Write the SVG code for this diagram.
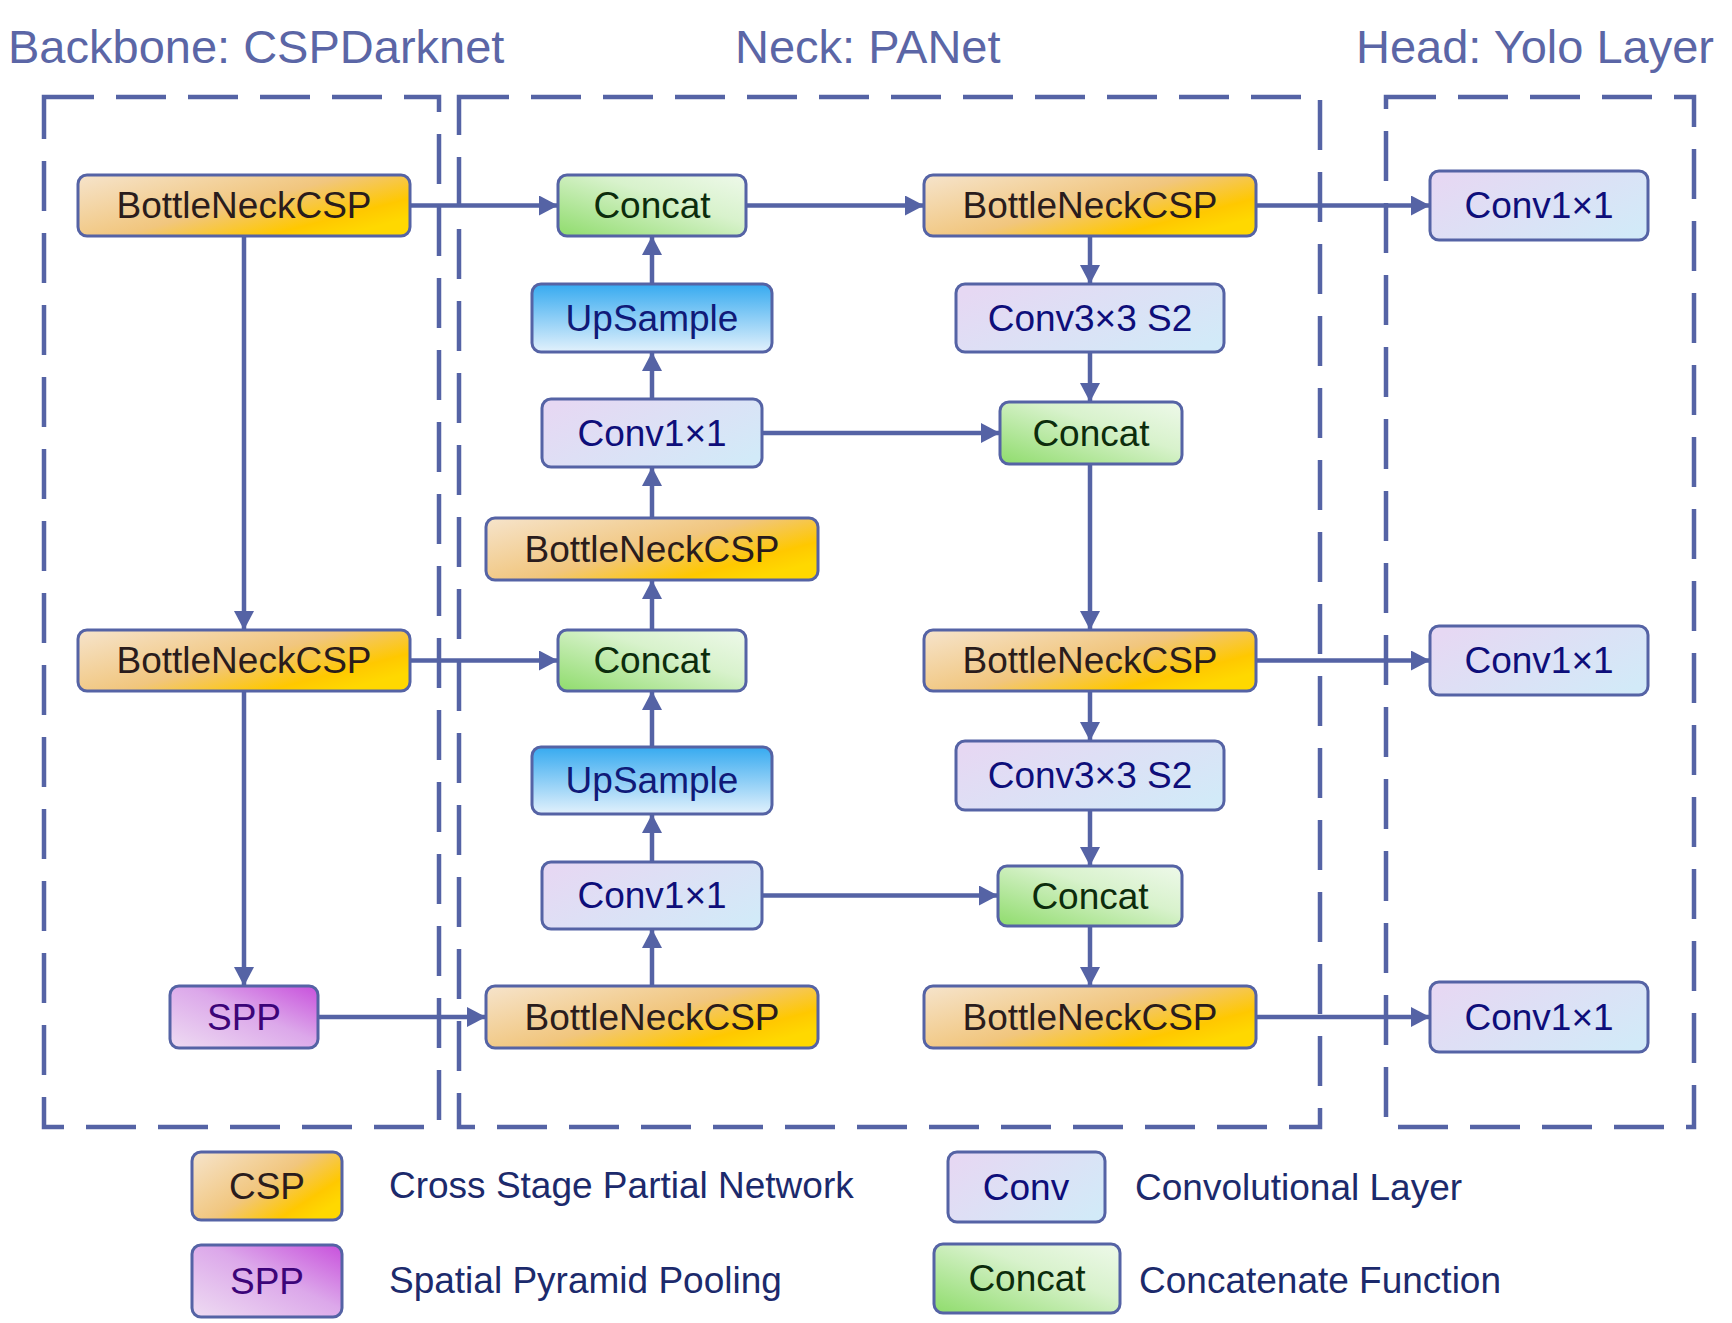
<svg xmlns="http://www.w3.org/2000/svg" width="1732" height="1323" viewBox="0 0 1732 1323">
<defs>
<linearGradient id="gCsp" x1="0" y1="0" x2="1" y2="0.7">
<stop offset="0" stop-color="#f6e4cc"/><stop offset="0.55" stop-color="#f1c67e"/><stop offset="0.85" stop-color="#ffc800"/><stop offset="1" stop-color="#ffd800"/>
</linearGradient>
<linearGradient id="gConv" x1="0" y1="0.2" x2="1" y2="0.8">
<stop offset="0" stop-color="#e6d8f3"/><stop offset="1" stop-color="#d2eaf8"/>
</linearGradient>
<linearGradient id="gConcat" x1="0" y1="1" x2="1" y2="0">
<stop offset="0" stop-color="#8fdc6c"/><stop offset="0.6" stop-color="#d8f2cc"/><stop offset="1" stop-color="#eef9ea"/>
</linearGradient>
<linearGradient id="gUp" x1="0" y1="0" x2="0" y2="1">
<stop offset="0" stop-color="#36aaf0"/><stop offset="1" stop-color="#e2f1fc"/>
</linearGradient>
<linearGradient id="gSpp" x1="0" y1="1" x2="1" y2="0">
<stop offset="0" stop-color="#eedcf2"/><stop offset="0.55" stop-color="#dca8ea"/><stop offset="1" stop-color="#c850dc"/>
</linearGradient>
<marker id="ah" markerUnits="userSpaceOnUse" markerWidth="22" markerHeight="22" refX="19" refY="10" orient="auto">
<path d="M0,0 L19,10 L0,20 z" fill="#5563a5"/>
</marker>
<style>
.box{stroke:#5563a5;stroke-width:3}
.t{font-family:"Liberation Sans",Arial,sans-serif;font-size:37px;text-anchor:middle}
.title{font-family:"Liberation Sans",Arial,sans-serif;font-size:47px;fill:#5b66a6}
.leg{font-family:"Liberation Sans",Arial,sans-serif;font-size:37px;fill:#1c2a6c}
.dash{fill:none;stroke:#5563a5;stroke-width:4.5;stroke-dasharray:50 22}
.csp{fill:url(#gCsp)} .conv{fill:url(#gConv)} .concat{fill:url(#gConcat)} .up{fill:url(#gUp)} .spp{fill:url(#gSpp)}
.tc{fill:#2a1c1c} .tv{fill:#0e0e7a} .tg{fill:#0c2c0c} .tu{fill:#101a78} .ts{fill:#3c0478}
.c{fill:none;stroke:#5563a5;stroke-width:4.5;marker-end:url(#ah)}
</style>
</defs>
<rect width="1732" height="1323" fill="#ffffff"/>
<g id="titles">
<text class="title" x="8" y="63">Backbone: CSPDarknet</text>
<text class="title" x="735" y="63">Neck: PANet</text>
<text class="title" x="1356" y="63">Head: Yolo Layer</text>
</g>
<g id="regions">
<path class="dash" d="M44,97 H439 V1127 H44 Z"/>
<path class="dash" d="M459,97 H1320 V1127 H459 Z"/>
<path class="dash" d="M1386,97 H1694 V1127 H1386 Z"/>
</g>
<g id="connectors">
<line class="c" x1="410" y1="205.5" x2="558" y2="205.5"/>
<line class="c" x1="746" y1="205.5" x2="924" y2="205.5"/>
<line class="c" x1="1256" y1="205.5" x2="1430" y2="205.5"/>
<line class="c" x1="244" y1="236" x2="244" y2="630"/>
<line class="c" x1="410" y1="660.5" x2="558" y2="660.5"/>
<line class="c" x1="244" y1="691" x2="244" y2="986"/>
<line class="c" x1="318" y1="1017" x2="486" y2="1017"/>
<line class="c" x1="652" y1="986" x2="652" y2="929"/>
<line class="c" x1="652" y1="862" x2="652" y2="814"/>
<line class="c" x1="652" y1="747" x2="652" y2="691"/>
<line class="c" x1="652" y1="630" x2="652" y2="580"/>
<line class="c" x1="652" y1="518" x2="652" y2="467"/>
<line class="c" x1="652" y1="399" x2="652" y2="352"/>
<line class="c" x1="652" y1="284" x2="652" y2="236"/>
<line class="c" x1="762" y1="433" x2="1000" y2="433"/>
<line class="c" x1="762" y1="895.5" x2="998" y2="895.5"/>
<line class="c" x1="1090" y1="236" x2="1090" y2="284"/>
<line class="c" x1="1090" y1="352" x2="1090" y2="402"/>
<line class="c" x1="1090" y1="464" x2="1090" y2="630"/>
<line class="c" x1="1256" y1="660.5" x2="1430" y2="660.5"/>
<line class="c" x1="1090" y1="691" x2="1090" y2="741"/>
<line class="c" x1="1090" y1="810" x2="1090" y2="866"/>
<line class="c" x1="1090" y1="926" x2="1090" y2="986"/>
<line class="c" x1="1256" y1="1017" x2="1430" y2="1017"/>
</g>
<g id="bb_csp1"><rect class="box csp" x="78" y="175" width="332" height="61" rx="9"/><text class="t tc" x="244" y="218">BottleNeckCSP</text></g>
<g id="bb_csp2"><rect class="box csp" x="78" y="630" width="332" height="61" rx="9"/><text class="t tc" x="244" y="673">BottleNeckCSP</text></g>
<g id="bb_spp"><rect class="box spp" x="170" y="986" width="148" height="62" rx="9"/><text class="t ts" x="244" y="1030">SPP</text></g>
<g id="n_concat1"><rect class="box concat" x="558" y="175" width="188" height="61" rx="9"/><text class="t tg" x="652" y="218">Concat</text></g>
<g id="n_up1"><rect class="box up" x="532" y="284" width="240" height="68" rx="9"/><text class="t tu" x="652" y="331">UpSample</text></g>
<g id="n_conv1"><rect class="box conv" x="542" y="399" width="220" height="68" rx="9"/><text class="t tv" x="652" y="446">Conv1×1</text></g>
<g id="n_csp_mid"><rect class="box csp" x="486" y="518" width="332" height="62" rx="9"/><text class="t tc" x="652" y="562">BottleNeckCSP</text></g>
<g id="n_concat2"><rect class="box concat" x="558" y="630" width="188" height="61" rx="9"/><text class="t tg" x="652" y="673">Concat</text></g>
<g id="n_up2"><rect class="box up" x="532" y="747" width="240" height="67" rx="9"/><text class="t tu" x="652" y="793">UpSample</text></g>
<g id="n_conv2"><rect class="box conv" x="542" y="862" width="220" height="67" rx="9"/><text class="t tv" x="652" y="908">Conv1×1</text></g>
<g id="n_csp_bot"><rect class="box csp" x="486" y="986" width="332" height="62" rx="9"/><text class="t tc" x="652" y="1030">BottleNeckCSP</text></g>
<g id="n2_csp_top"><rect class="box csp" x="924" y="175" width="332" height="61" rx="9"/><text class="t tc" x="1090" y="218">BottleNeckCSP</text></g>
<g id="n2_conv3a"><rect class="box conv" x="956" y="284" width="268" height="68" rx="9"/><text class="t tv" x="1090" y="331">Conv3×3 S2</text></g>
<g id="n2_concat_a"><rect class="box concat" x="1000" y="402" width="182" height="62" rx="9"/><text class="t tg" x="1091" y="446">Concat</text></g>
<g id="n2_csp_mid"><rect class="box csp" x="924" y="630" width="332" height="61" rx="9"/><text class="t tc" x="1090" y="673">BottleNeckCSP</text></g>
<g id="n2_conv3b"><rect class="box conv" x="956" y="741" width="268" height="69" rx="9"/><text class="t tv" x="1090" y="788">Conv3×3 S2</text></g>
<g id="n2_concat_b"><rect class="box concat" x="998" y="866" width="184" height="60" rx="9"/><text class="t tg" x="1090" y="909">Concat</text></g>
<g id="n2_csp_bot"><rect class="box csp" x="924" y="986" width="332" height="62" rx="9"/><text class="t tc" x="1090" y="1030">BottleNeckCSP</text></g>
<g id="h_conv1"><rect class="box conv" x="1430" y="171" width="218" height="69" rx="9"/><text class="t tv" x="1539" y="218">Conv1×1</text></g>
<g id="h_conv2"><rect class="box conv" x="1430" y="626" width="218" height="69" rx="9"/><text class="t tv" x="1539" y="673">Conv1×1</text></g>
<g id="h_conv3"><rect class="box conv" x="1430" y="982" width="218" height="70" rx="9"/><text class="t tv" x="1539" y="1030">Conv1×1</text></g>
<g id="legend">
<g id="leg_csp"><rect class="box csp" x="192" y="1152" width="150" height="68" rx="9"/><text class="t tc" x="267" y="1199">CSP</text></g>
<g id="leg_spp"><rect class="box spp" x="192" y="1245" width="150" height="72" rx="9"/><text class="t ts" x="267" y="1294">SPP</text></g>
<g id="leg_conv"><rect class="box conv" x="948" y="1152" width="157" height="70" rx="9"/><text class="t tv" x="1026" y="1200">Conv</text></g>
<g id="leg_concat"><rect class="box concat" x="934" y="1244" width="186" height="69" rx="9"/><text class="t tg" x="1027" y="1291">Concat</text></g>
<text class="leg" x="389" y="1198">Cross Stage Partial Network</text>
<text class="leg" x="389" y="1293">Spatial Pyramid Pooling</text>
<text class="leg" x="1135" y="1200">Convolutional Layer</text>
<text class="leg" x="1139" y="1293">Concatenate Function</text>
</g>
</svg>
